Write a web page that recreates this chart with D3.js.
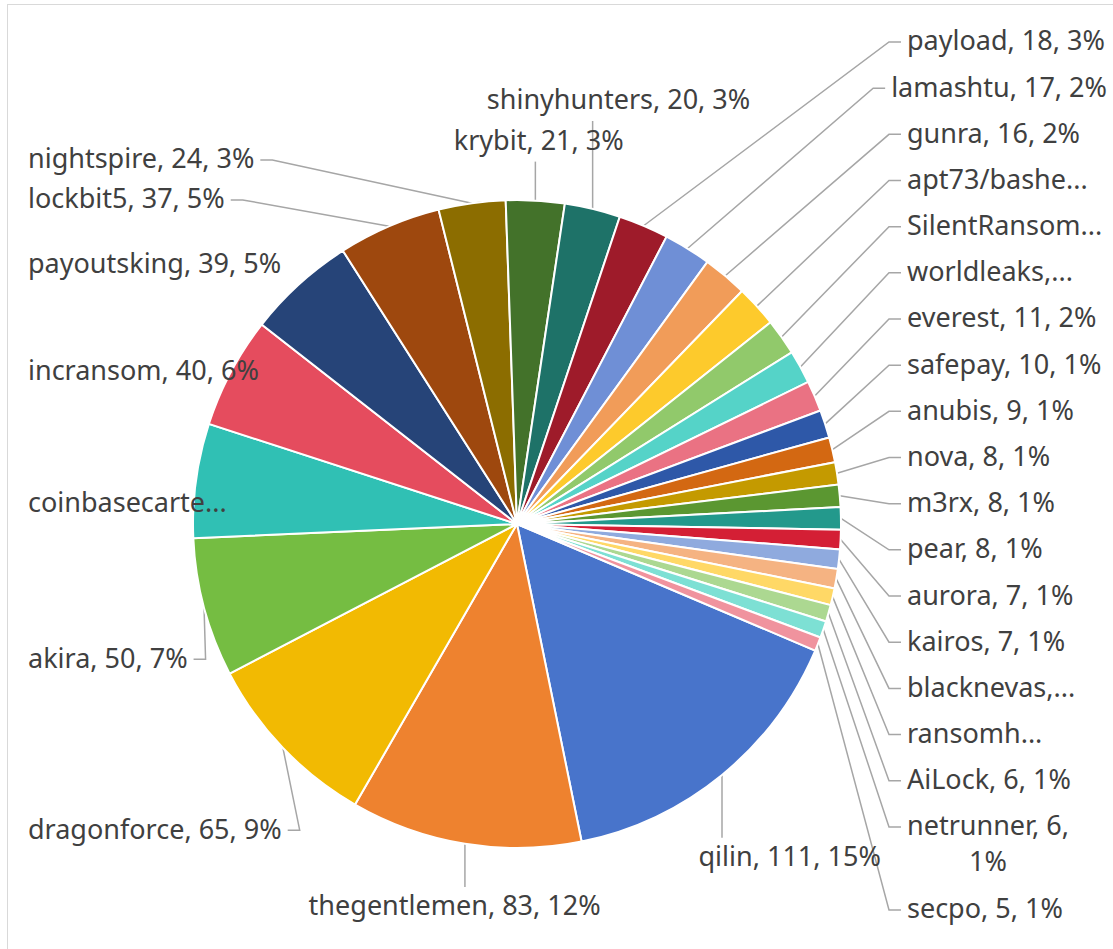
<!DOCTYPE html>
<html lang="en">
<head>
<meta charset="UTF-8" />
<title>Pie of groups</title>
<style>
  body { margin: 0; background: white; }
  svg { display: block; }
  .label { font-family: "Noto Sans", "Open Sans", sans-serif; font-size: 27px; fill: #404040; }
  .leader { fill: none; stroke: #a6a6a6; stroke-width: 1.5px; }
</style>
</head>
<body>
<svg></svg>
<script src="https://cdn.jsdelivr.net/npm/d3@7/dist/d3.min.js"></script>
<script>
const names = ["qilin", "thegentlemen", "dragonforce", "akira", "coinbasecartel", "incransom",
  "payoutsking", "lockbit5", "nightspire", "krybit", "shinyhunters", "payload", "lamashtu",
  "gunra", "apt73/bashe", "SilentRansom", "worldleaks", "everest", "safepay", "anubis", "nova",
  "m3rx", "pear", "aurora", "kairos", "blacknevas", "ransomhouse", "AiLock", "netrunner", "secpo"];
const values = [111, 83, 65, 50, 41, 40, 39, 37, 24, 21, 20, 18, 17, 16, 15, 13, 12, 11, 10, 9,
  8, 8, 8, 7, 7, 7, 6, 6, 6, 5];
const colors = ["#4874cb", "#ee822f", "#f2ba02", "#75bd42", "#30c0b4", "#e54c5e", "#264478",
  "#9e480e", "#8c6d00", "#43722a", "#1e7268", "#9e1b2a", "#6f8fd6", "#f19c59", "#fdca2c",
  "#91c96b", "#55d3c8", "#ea7283", "#2e58a8", "#d36812", "#c49a00", "#5b9731", "#23998c",
  "#d41f35", "#8faade", "#f5b382", "#ffd866", "#acd891", "#7de0d4", "#f0939e"];
// labels that the chart shows cut short, and the one it wraps
const cutLabels = {
  "coinbasecartel": "coinbasecarte...", "apt73/bashe": "apt73/bashe...",
  "SilentRansom": "SilentRansom...", "worldleaks": "worldleaks,...",
  "blacknevas": "blacknevas,...", "ransomhouse": "ransomh..."
};
const wrapped = ["netrunner"];

const width = 1113, height = 949;
const cx = 517, cy = 524, radius = 324;
const firstAngle = 113;
const lineH = 36, gap = 40, pad = 4;

const svg = d3.select("svg").attr("width", width).attr("height", height);

svg.append("rect")
  .attr("x", 7.5).attr("y", 4.5)
  .attr("width", width + 20).attr("height", height + 20)
  .attr("fill", "white").attr("stroke", "#d9d9d9");

const total = d3.sum(values);
const data = names.map((n, i) => ({ name: n, value: values[i], color: colors[i] }));

const a0 = firstAngle * Math.PI / 180;
const pie = d3.pie().sort(null).value(d => d.value).startAngle(a0).endAngle(a0 + 2 * Math.PI);
const arc = d3.arc().innerRadius(0).outerRadius(radius);
const arcs = pie(data);

const leaderG = svg.append("g");

const g = svg.append("g").attr("transform", `translate(${cx},${cy})`);
g.selectAll("path")
  .data(arcs)
  .join("path")
    .attr("d", arc)
    .attr("fill", d => d.data.color)
    .attr("stroke", "white")
    .attr("stroke-width", 2);

arcs.forEach(d => {
  const pct = Math.round(d.value / total * 100);
  if (cutLabels[d.data.name]) d.lines = [cutLabels[d.data.name]];
  else if (wrapped.includes(d.data.name)) d.lines = [`${d.data.name}, ${d.value},`, `${pct}%`];
  else d.lines = [`${d.data.name}, ${d.value}, ${pct}%`];
  const mid = (d.startAngle + d.endAngle) / 2;
  d.ux = Math.sin(mid);
  d.uy = -Math.cos(mid);
  d.ax = cx + radius * d.ux;
  d.ay = cy + radius * d.uy;
  if (d.value / total < 0.026) d.place = "right";
  else if (d.ux < -0.12 && d.uy < 0.9) d.place = "left";
  else d.place = "out";
});

const texts = svg.append("g").selectAll("text")
  .data(arcs)
  .join("text")
    .attr("class", "label")
    .attr("text-anchor", "middle");
texts.selectAll("tspan")
  .data(d => d.lines)
  .join("tspan")
    .text(t => t);

texts.each(function(d) {
  let w = 0;
  d3.select(this).selectAll("tspan").each(function() {
    w = Math.max(w, this.getComputedTextLength());
  });
  d.w = w;
  d.h = d.lines.length * lineH;
});

const box = d => ({ x1: d.x - d.w / 2, x2: d.x + d.w / 2, y1: d.y - d.h / 2, y2: d.y + d.h / 2 });
function overlaps(a, b) {
  return Math.abs(a.x - b.x) < (a.w + b.w) / 2 + pad && Math.abs(a.y - b.y) < (a.h + b.h) / 2 + pad;
}

// right column: small slices, spread over the height, extra room for wrapped labels
const right = arcs.filter(d => d.place === "right");
const colTop = 42, colBottom = 910, colX = cx + radius + 66;
const extra = right.map(d => (d.lines.length - 1) * 0.8);
const unit = (colBottom - colTop) / (right.length - 1 + d3.sum(extra));
let slot = 0;
right.forEach((d, i) => {
  d.x = Math.min(colX + d.w / 2, width - 6 - d.w / 2);
  d.y = colTop + unit * slot + (d.h - lineH) / 2;
  slot += 1 + extra[i];
});

// left column: flush with the left edge, on a ring a bit lower than the pie
const left = arcs.filter(d => d.place === "left");
left.forEach(d => {
  d.x = 28 + d.w / 2;
  d.y = cy + 33 + (radius + 71) * d.uy;
});
for (let it = 0; it < 50; it++) {
  left.sort((a, b) => a.y - b.y);
  for (let i = 1; i < left.length; i++) {
    const need = (left[i - 1].h + left[i].h) / 2 + pad - (left[i].y - left[i - 1].y);
    if (need > 0) { left[i - 1].y -= need / 2; left[i].y += need / 2; }
  }
}

// the rest: just outside their slice, bigger slices first
const placed = right.concat(left);
arcs.filter(d => d.place === "out")
  .sort((a, b) => b.value - a.value)
  .forEach(d => {
    const at = s => {
      d.x = cx + s * d.ux;
      d.y = cy + s * d.uy;
      const b = box(d);
      const px = Math.max(b.x1, Math.min(cx, b.x2)), py = Math.max(b.y1, Math.min(cy, b.y2));
      return Math.hypot(px - cx, py - cy);
    };
    let s = 0;
    while (at(s) < radius + gap) s += 1;
    while (placed.some(o => overlaps(o, d))) at(s += 1);
    placed.push(d);
  });

texts
  .attr("x", d => d.x)
  .attr("y", d => d.y - d.h / 2);
texts.selectAll("tspan")
  .attr("x", function() { return d3.select(this.parentNode).datum().x; })
  .attr("dy", (t, i) => i === 0 ? "0.98em" : lineH + "px");

// leader lines
const leaders = [];
arcs.forEach(d => {
  const b = box(d);
  const dx = Math.max(b.x1 - d.ax, 0, d.ax - b.x2);
  const dy = Math.max(b.y1 - d.ay, 0, d.ay - b.y2);
  if (Math.hypot(dx, dy) < 22) return;
  const ly = b.y1 + lineH / 2;
  let pts;
  if (d.ax >= b.x1 && d.ax <= b.x2) {
    pts = [[d.ax, d.ay], [d.ax, d.ay < b.y1 ? b.y1 - 2 : b.y2 + 2]];
  } else if (b.x1 > d.ax) {
    pts = [[d.ax, d.ay], [b.x1 - 18, ly], [b.x1 - 6, ly]];
  } else {
    pts = [[d.ax, d.ay], [b.x2 + 18, ly], [b.x2 + 6, ly]];
  }
  leaders.push(pts);
});

leaderG.selectAll("path")
  .data(leaders)
  .join("path")
    .attr("class", "leader")
    .attr("d", d3.line());
</script>
</body>
</html>
